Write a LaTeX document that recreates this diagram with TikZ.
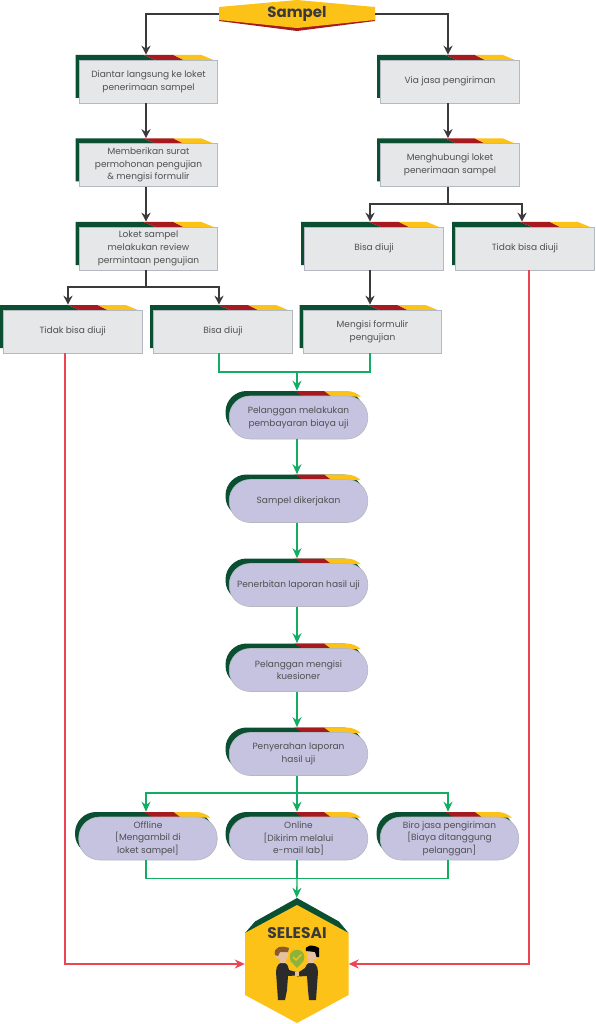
\documentclass[tikz,border=0pt]{standalone}
\usepackage{fontspec}
\setmainfont{Poppins}
\usetikzlibrary{arrows.meta}
\definecolor{hijautua}{HTML}{0B4F33}
\definecolor{merahtua}{HTML}{A6191E}
\definecolor{kuning}{HTML}{FDC218}
\definecolor{abukotak}{HTML}{E6E7E9}
\definecolor{ungukotak}{HTML}{C5C3E0}
\definecolor{garistepi}{HTML}{B4B8C0}
\definecolor{tulisan}{HTML}{4F5052}
\definecolor{gelap}{HTML}{3A3A3C}
\definecolor{hijaupanah}{HTML}{12AD63}
\definecolor{merahpanah}{HTML}{EE4352}
\definecolor{hijaulencana}{HTML}{8DB33B}
\definecolor{kulit}{HTML}{E6C1A0}
\definecolor{rambut}{HTML}{8B5A2B}
\definecolor{jas}{HTML}{2B2B2B}
\newcommand{\kotakabu}[4]{%
  \begin{scope}[shift={(#2,#3)}]
    \fill[hijautua] (-73,-26.5)--(-5,-26.5)--(7,-21.5)--(-69,-21.5)--(-69,16.5)--(-73,16.5)--cycle;
    \fill[merahtua] (-5,-26.5)--(25,-26.5)--(35,-21.5)--(7,-21.5)--cycle;
    \fill[kuning] (25,-26.5)--(53,-26.5)--(65,-21.5)--(35,-21.5)--cycle;
    \node[abubox] (#1) at (0,0) {#4};
  \end{scope}}
\newcommand{\kotakungu}[4]{%
  \begin{scope}[shift={(#2,#3)}]
    \fill[hijautua,rounded corners=21pt] (-73,-26.5) rectangle (65,16.5);
    \begin{scope}
      \clip[rounded corners=21pt] (-69,-26.5) rectangle (69,16.5);
      \fill[merahtua] (-5,-27)--(25,-27)--(33,-21)--(5,-21)--cycle;
      \fill[kuning] (25,-27)--(70,-27)--(70,-21)--(33,-21)--cycle;
    \end{scope}
    \node[ungubox] (#1) at (0,0) {#4};
  \end{scope}}
\begin{document}
\begin{tikzpicture}[x=1pt,y=-1pt,
  every node/.style={font=\fontsize{9}{12.7}\selectfont,text=tulisan,align=center,inner sep=0pt},
  abubox/.style={fill=abukotak,draw=garistepi,line width=.6pt,minimum width=138.5pt,minimum height=43pt,execute at begin node={\vspace*{2.4pt}}},
  ungubox/.style={abubox,fill=ungukotak,rounded corners=21pt},
  garisgelap/.style={draw=gelap,line width=1.5pt,-{Stealth[length=9pt,width=9pt]}},
  garishijau/.style={draw=hijaupanah,line width=1.3pt,-{Stealth[length=10pt,width=9pt]}},
  garismerah/.style={draw=merahpanah,line width=1.3pt,-{Stealth[length=10pt,width=9pt]}},
  polos/.style={-}]
  \useasboundingbox (0,0) rectangle (595,1024);
  \kotakabu{diantar}{148.5}{81.5}{Diantar langsung ke loket\\penerimaan sampel}
  \kotakabu{via}{450}{81.5}{Via jasa pengiriman}
  \kotakabu{surat}{148.5}{165}{Memberikan surat\\permohonan pengujian\\\& mengisi formulir}
  \kotakabu{hubungi}{450}{165}{Menghubungi loket\\penerimaan sampel}
  \kotakabu{loket}{148.5}{248.5}{Loket sampel\\melakukan review\\permintaan pengujian}
  \kotakabu{bisakanan}{374}{248.5}{Bisa diuji}
  \kotakabu{tidakkanan}{525}{248.5}{Tidak bisa diuji}
  \kotakabu{tidakkiri}{72.75}{331.5}{Tidak bisa diuji}
  \kotakabu{bisakiri}{223}{331.5}{Bisa diuji}
  \kotakabu{mengisi}{372.5}{331.5}{Mengisi formulir\\pengujian}
  \kotakungu{bayar}{298.5}{417.5}{Pelanggan melakukan\\pembayaran biaya uji}
  \kotakungu{kerja}{298.5}{501}{Sampel dikerjakan}
  \kotakungu{terbit}{298.5}{585}{Penerbitan laporan hasil uji}
  \kotakungu{kuesioner}{298.5}{670}{Pelanggan mengisi\\kuesioner}
  \kotakungu{serah}{298.5}{754}{Penyerahan laporan\\hasil uji}
  \kotakungu{offline}{148}{838.5}{Offline\\{[}Mengambil di\\loket sampel{]}}
  \kotakungu{online}{298.5}{838.5}{Online\\{[}Dikirim melalui\\e-mail lab{]}}
  \kotakungu{biro}{449.5}{838.5}{Biro jasa pengiriman\\{[}Biaya ditanggung\\pelanggan{]}}
  \fill[merahtua] (219,21)--(297,31)--(375,21)--(375,14)--(219,14)--cycle;
  \fill[kuning] (219,7)--(297,0)--(375,7)--(375,20)--(297,28)--(219,20)--cycle;
  \node[minimum width=156pt,minimum height=14pt,font=\fontsize{15}{15}\selectfont\bfseries,text=gelap] (sampel) at (297,14) {Sampel};
  \fill[hijautua] (245,933)--(255,921.5)--(297,898)--(339,921.5)--(348.5,933)--(297,910)--cycle;
  \fill[kuning] (245,933)--(297,905)--(348.5,933)--(348.5,995)--(297,1023)--(245,995)--cycle;
  \node[minimum width=103.5pt,minimum height=118pt] (selesai) at (296.75,964) {};
  \node[font=\fontsize{15.5}{15.5}\selectfont\bfseries,text=gelap] (judulselesai) at (297,933) {SELESAI};
  \fill[hijaulencana] (297,968) -- (290,960.5) -- (304,960.5) -- cycle;
  \fill[hijaulencana] (297,957) circle (7.3);
  \draw[kuning,line width=1.1pt] (293,957) -- (296,960) -- (301.5,954.5);
  \fill[jas] (276,972) .. controls (276,965) and (280,962) .. (284,962) .. controls (287,963) and (288,966) .. (289,970) -- (296,972) -- (296,975.5) -- (288,976) -- (287,990) -- (285,1000) -- (278,1000) -- cycle;
  \fill[jas] (318,972) .. controls (318,965) and (314,962) .. (310,962) .. controls (307,963) and (306,966) .. (305,968) -- (296,974) -- (297,976.5) -- (307,976) -- (308,990) -- (309,1000) -- (316,1000) -- cycle;
  \fill[kulit] (294.5,972) rectangle (299,976);
  \fill[kulit] (276,950) rectangle (288,958) (280,958) rectangle (286,963);
  \fill[kulit] (277,957) .. controls (279,961) and (285,961) .. (288,957) -- cycle;
  \fill[rambut] (275,955) .. controls (273,947) and (281,945) .. (289,948) -- (288,952) -- (280,952) -- (278,956) -- cycle;
  \fill[kulit] (307,950) rectangle (318,958) (308,958) rectangle (314,963);
  \fill[kulit] (307,957) .. controls (309,961) and (315,961) .. (318,957) -- cycle;
  \fill[black] (306,951) .. controls (304,945) and (313,944) .. (319,948) -- (319,957) -- (316.5,957) -- (315,952) -- cycle;
  \coordinate (cabangkiri) at (146,287);
  \coordinate (cabangkanan) at (448,204);
  \coordinate (gabung) at (297,372);
  \coordinate (cabangbawah) at (297,793);
  \coordinate (gabungbawah) at (297,878.5);
  \draw[garisgelap] (sampel.west) -| ([xshift=-2.5pt,yshift=5pt]diantar.north);
  \draw[garisgelap] (sampel.east) -| ([xshift=-2pt,yshift=5pt]via.north);
  \draw[garisgelap] ([xshift=-2.5pt]diantar.south) -- ([xshift=-2.5pt,yshift=5pt]surat.north);
  \draw[garisgelap] ([xshift=-2.5pt]surat.south) -- ([xshift=-2.5pt,yshift=5pt]loket.north);
  \draw[garisgelap] ([xshift=-2pt]via.south) -- ([xshift=-2pt,yshift=5pt]hubungi.north);
  \draw[garisgelap,polos] ([xshift=-2pt]hubungi.south) -- (cabangkanan);
  \draw[garisgelap] (cabangkanan) -| ([xshift=-4pt,yshift=5pt]bisakanan.north);
  \draw[garisgelap] (cabangkanan) -| ([xshift=-3pt,yshift=5pt]tidakkanan.north);
  \draw[garisgelap,polos] ([xshift=-2.5pt]loket.south) -- (cabangkiri);
  \draw[garisgelap] (cabangkiri) -| ([xshift=-4.75pt,yshift=5pt]tidakkiri.north);
  \draw[garisgelap] (cabangkiri) -| ([xshift=-4pt,yshift=5pt]bisakiri.north);
  \draw[garisgelap] ([xshift=-4pt]bisakanan.south) -- ([xshift=-2.5pt,yshift=5pt]mengisi.north);
  \draw[garishijau,polos] ([xshift=-4pt]bisakiri.south) |- (gabung) -| ([xshift=-2.5pt]mengisi.south);
  \draw[garishijau] (gabung) -- ([xshift=-1.5pt,yshift=5pt]bayar.north);
  \draw[garishijau] ([xshift=-1.5pt]bayar.south) -- ([xshift=-1.5pt,yshift=5pt]kerja.north);
  \draw[garishijau] ([xshift=-1.5pt]kerja.south) -- ([xshift=-1.5pt,yshift=5pt]terbit.north);
  \draw[garishijau] ([xshift=-1.5pt]terbit.south) -- ([xshift=-1.5pt,yshift=5pt]kuesioner.north);
  \draw[garishijau] ([xshift=-1.5pt]kuesioner.south) -- ([xshift=-1.5pt,yshift=5pt]serah.north);
  \draw[garishijau] ([xshift=-1.5pt]serah.south) -- ([xshift=-1.5pt,yshift=5pt]online.north);
  \draw[garishijau] (cabangbawah) -| ([xshift=-2pt,yshift=5pt]offline.north);
  \draw[garishijau] (cabangbawah) -| ([xshift=-1.5pt,yshift=5pt]biro.north);
  \draw[garishijau,polos] ([xshift=-2pt]offline.south) |- (gabungbawah) -| ([xshift=-1.5pt]biro.south);
  \draw[garishijau,polos] ([xshift=-1.5pt]online.south) -- (gabungbawah);
  \draw[garishijau] (gabungbawah) -- ([yshift=7pt]selesai.north);
  \draw[garismerah] ([xshift=-7.75pt]tidakkiri.south) |- (selesai.west);
  \draw[garismerah] ([xshift=4pt]tidakkanan.south) |- (selesai.east);
\end{tikzpicture}
\end{document}
